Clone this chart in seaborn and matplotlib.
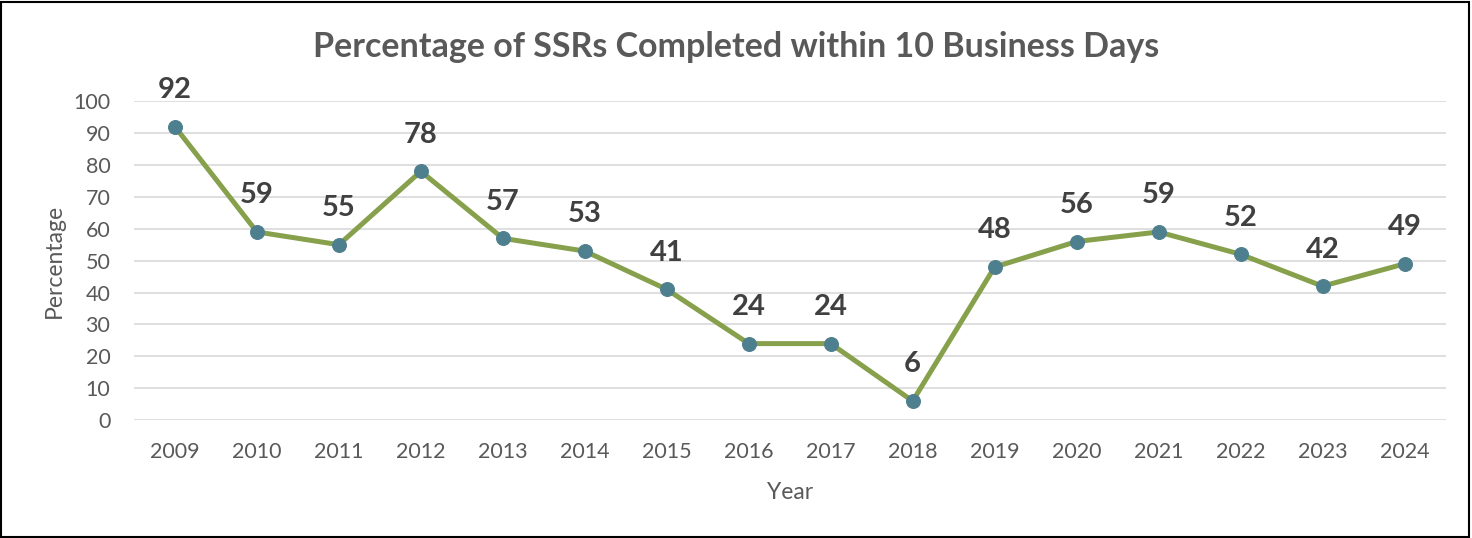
import pandas as pd
import seaborn as sns
import matplotlib.pyplot as plt
from matplotlib.patches import Rectangle

# Data
years = ['2009', '2010', '2011', '2012', '2013', '2014', '2015', '2016',
         '2017', '2018', '2019', '2020', '2021', '2022', '2023', '2024']
percent = [92, 59, 55, 78, 57, 53, 41, 24, 24, 6, 48, 56, 59, 52, 42, 49]

df = pd.DataFrame({'Year': years, 'Percentage': percent})

sns.set_style('white')
plt.rcParams['font.family'] = ['Lato', 'DejaVu Sans']

fig = plt.figure(figsize=(14.72, 5.38), dpi=100)
ax = fig.add_axes([0.091, 0.219, 0.891, 0.593])

sns.lineplot(data=df, x='Year', y='Percentage', ax=ax, color='#87A04C',
             linewidth=3.6, marker='o', markersize=10,
             markerfacecolor='#4E7F8E', markeredgecolor='#4E7F8E', zorder=3)

for i, v in enumerate(percent):
    ax.annotate(str(v), (i, v), xytext=(0, 17), textcoords='offset points',
                ha='center', va='bottom', fontsize=21, fontweight='bold',
                color='#404040')

ax.set_xlim(-0.5, len(years) - 0.5)
ax.set_ylim(0, 100)
ax.set_yticks(range(0, 101, 10))
ax.grid(axis='y', color='#D9D9D9', linewidth=1.2, zorder=0)
for s in ax.spines.values():
    s.set_visible(False)
ax.tick_params(axis='both', length=0, labelsize=15.5, labelcolor='#595959')
ax.tick_params(axis='x', pad=16)
ax.tick_params(axis='y', pad=17)
ax.set_xlabel('Year', fontsize=16.5, color='#595959', labelpad=14)
ax.set_ylabel('Percentage', fontsize=16.5, color='#595959', labelpad=6)

fig.text(0.5, 0.912, 'Percentage of SSRs Completed within 10 Business Days',
         ha='center', va='center', fontsize=24.5, fontweight='bold',
         color='#595959')

fig.patches.append(Rectangle((0.001, 0.002), 0.997, 0.995,
                             transform=fig.transFigure, fill=False,
                             edgecolor='black', linewidth=1.5))

plt.savefig('out.png', dpi=100)
